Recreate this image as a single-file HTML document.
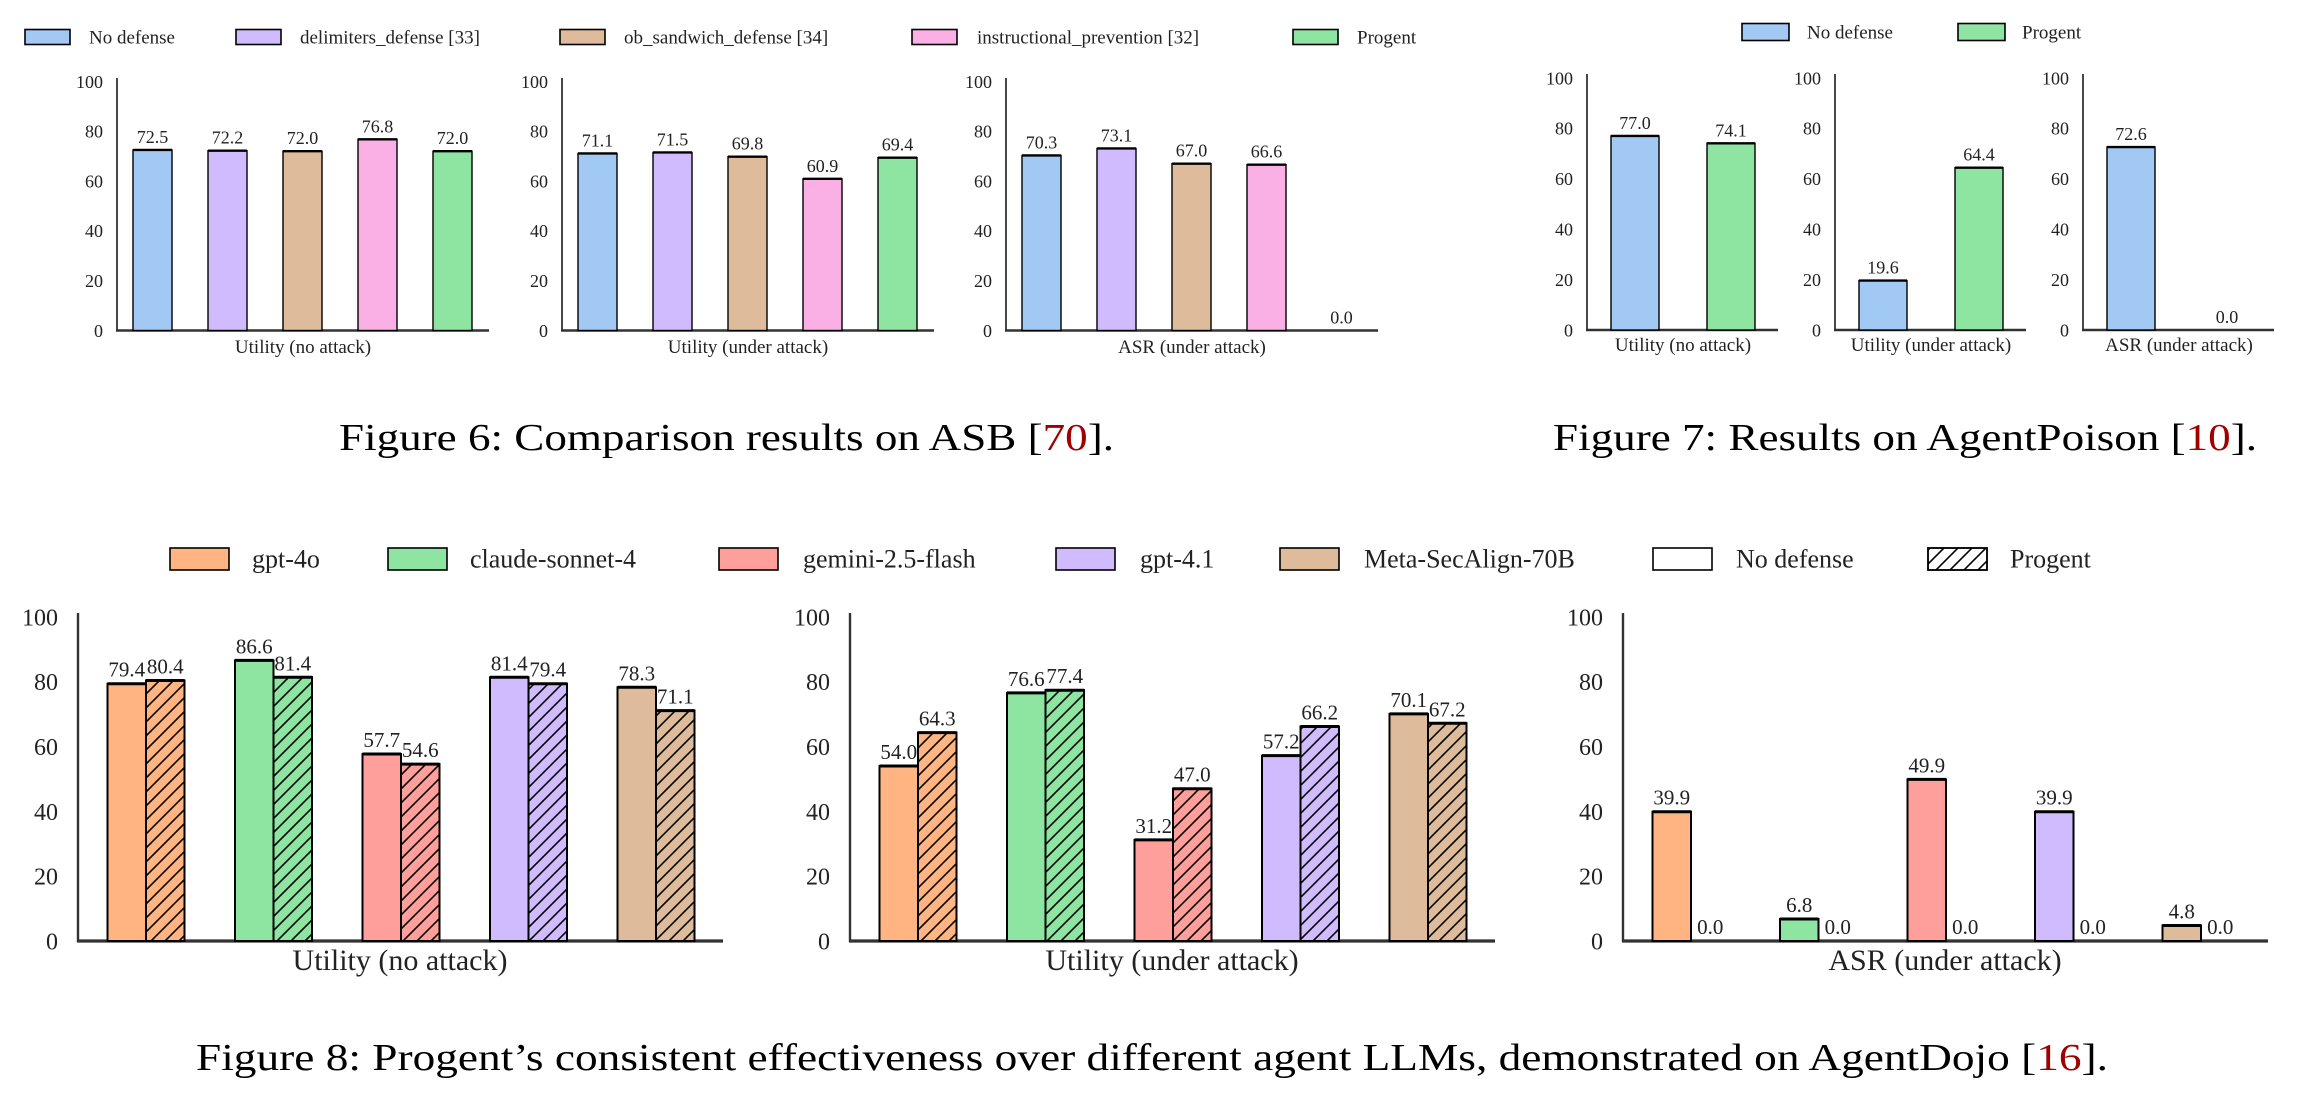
<!DOCTYPE html>
<html><head><meta charset="utf-8">
<style>
html,body{margin:0;padding:0;background:#fff;}
svg{display:block;font-family:"Liberation Serif",serif;}
</style></head>
<body>
<svg id="chart" xmlns="http://www.w3.org/2000/svg" width="2308" height="1099" viewBox="0 0 2308 1099">
<defs>
<pattern id="hatch" patternUnits="userSpaceOnUse" width="14" height="14">
<path d="M-2,16 L16,-2 M-9,9 L9,-9 M5,23 L23,5" stroke="#000" stroke-width="1.6"/>
</pattern>
</defs>
<g id="root"></g>
<text x="339" y="450" font-size="38" textLength="775" lengthAdjust="spacingAndGlyphs">Figure 6: Comparison results on ASB [<tspan fill="#a00000">70</tspan>].</text>
<text x="1553" y="450" font-size="38" textLength="704" lengthAdjust="spacingAndGlyphs">Figure 7: Results on AgentPoison [<tspan fill="#a00000">10</tspan>].</text>
<text x="196" y="1070" font-size="38" textLength="1912" lengthAdjust="spacingAndGlyphs">Figure 8: Progent’s consistent effectiveness over different agent LLMs, demonstrated on AgentDojo [<tspan fill="#a00000">16</tspan>].</text>
</svg>
<script>
// ---------- data ----------
const fig6Series = ["No defense","delimiters_defense [33]","ob_sandwich_defense [34]","instructional_prevention [32]","Progent"];
const fig6Panels = ["Utility (no attack)","Utility (under attack)","ASR (under attack)"];
const fig6Utility = [72.5,72.2,72.0,76.8,72.0];
const fig6UtilityAttack = [71.1,71.5,69.8,60.9,69.4];
const fig6ASR = [70.3,73.1,67.0,66.6,0.0];

const fig7Series = ["No defense","Progent"];
const fig7Panels = ["Utility (no attack)","Utility (under attack)","ASR (under attack)"];
const fig7Utility = [77.0,74.1];
const fig7UtilityAttack = [19.6,64.4];
const fig7ASR = [72.6,0.0];

const fig8Models = ["gpt-4o","claude-sonnet-4","gemini-2.5-flash","gpt-4.1","Meta-SecAlign-70B"];
const fig8Panels = ["Utility (no attack)","Utility (under attack)","ASR (under attack)"];
const fig8UtilNoDef = [79.4,86.6,57.7,81.4,78.3];
const fig8UtilProgent = [80.4,81.4,54.6,79.4,71.1];
const fig8AttackNoDef = [54.0,76.6,31.2,57.2,70.1];
const fig8AttackProgent = [64.3,77.4,47.0,66.2,67.2];
const fig8ASRNoDef = [39.9,6.8,49.9,39.9,4.8];
const fig8ASRProgent = [0.0,0.0,0.0,0.0,0.0];

const yTicks = [0,20,40,60,80,100];

// ---------- styles ----------
const c6 = ["#a1c9f4","#d0bbff","#debb9b","#fab0e4","#8de5a1"];
const c7 = ["#a1c9f4","#8de5a1"];
const c8 = ["#ffb482","#8de5a1","#ff9f9b","#d0bbff","#debb9b"];

const NS = "http://www.w3.org/2000/svg";
const root = document.getElementById("root");
function mk(tag, attrs, parent, text){
  const e = document.createElementNS(NS, tag);
  for (const k in attrs) e.setAttribute(k, attrs[k]);
  if (text !== undefined) e.textContent = text;
  (parent || root).appendChild(e);
  return e;
}

function axes(g, ax, right, top, y0, k, tickFs, tickGap, lw){
  const yl = mk("line",{x1:ax,y1:top,x2:ax,y2:y0+1,stroke:"#333","stroke-width":lw},g);
  
  
  const xl = mk("line",{x1:ax-1,y1:y0,x2:right,y2:y0,stroke:"#333","stroke-width":lw+0.8},g);
  
  
  yTicks.forEach(t=>{
    const tl = mk("text",{x:ax-tickGap,y:y0-t*k+tickFs*0.35,"font-size":tickFs,"text-anchor":"end",fill:"#222"},g,String(t));
    
    
  });
}

function bar(g, x, w, v, y0, k, fill, hatch, lw, fs){
  const h = v*k;
  const r = mk("rect",{x:x,y:y0-h,width:w,height:h,fill:fill,stroke:"#000","stroke-width":lw},g);
  
  
  if (hatch && h>0){
    const hr = mk("rect",{x:x,y:y0-h,width:w,height:h,fill:"url(#hatch)",stroke:"#000","stroke-width":lw},g);
    
    
  }
  if (h>0){
    const tp = mk("line",{x1:x,y1:y0-h,x2:x+w,y2:y0-h,stroke:"#000","stroke-width":lw+1},g);
    
    
  }
  const lb = mk("text",{x:x+w/2,y:y0-h-7,"font-size":fs,"text-anchor":"middle",fill:"#222"},g,v.toFixed(1));
  
  
}

function legend(entries, y, h, w, fs){
  entries.forEach(en=>{
    const g = mk("g",{});
    
    
    const sw = mk("rect",{x:en.sx,y:y-h/2,width:w,height:h,fill:en.fill,stroke:"#000","stroke-width":1.6},g);
    
    
    if (en.hatch){
      const hs = mk("rect",{x:en.sx,y:y-h/2,width:w,height:h,fill:"url(#hatch)",stroke:"#000","stroke-width":1.6},g);
      
      
    }
    const tl = mk("text",{x:en.tx,y:y+fs*0.33,"font-size":fs,fill:"#222"},g,en.label);
    
    
  });
}

// ---------- Figure 6 ----------
(function(){
  const sx=[25,236,560,912,1293], tx=[89,300,624,977,1357];
  legend(fig6Series.map((s,i)=>({label:s,fill:c6[i],sx:sx[i],tx:tx[i]})),37,15,45,19);
  const data=[fig6Utility,fig6UtilityAttack,fig6ASR];
  const axX=[117,562,1006], y0=330.5, k=2.49;
  data.forEach((vals,p)=>{
    const g=mk("g",{});
    
    
    const ax=axX[p];
    axes(g,ax,ax+372,78,y0,k,18,14,1.8);
    vals.forEach((v,i)=>bar(g,ax+16+i*75,39,v,y0,k,c6[i],false,1.4,18));
    const xl=mk("text",{x:ax+186,y:353,"font-size":19,"text-anchor":"middle",fill:"#222"},g,fig6Panels[p]);
    
    
  });
})();

// ---------- Figure 7 ----------
(function(){
  legend(fig7Series.map((s,i)=>({label:s,fill:c7[i],sx:[1742,1958][i],tx:[1807,2022][i]})),32,17,47,19);
  const data=[fig7Utility,fig7UtilityAttack,fig7ASR];
  const axX=[1587,1835,2083], y0=330, k=2.52;
  data.forEach((vals,p)=>{
    const g=mk("g",{});
    
    
    const ax=axX[p];
    axes(g,ax,ax+191,74,y0,k,18,14,1.8);
    vals.forEach((v,i)=>bar(g,ax+24+i*96,48,v,y0,k,c7[i],false,1.4,18));
    const xl=mk("text",{x:ax+96,y:351,"font-size":19,"text-anchor":"middle",fill:"#222"},g,fig7Panels[p]);
    
    
  });
})();

// ---------- Figure 8 ----------
(function(){
  const sx=[170,388,719,1056,1280], tx=[252,470,803,1140,1364];
  const ents=fig8Models.map((m,i)=>({label:m,fill:c8[i],sx:sx[i],tx:tx[i]}));
  ents.push({label:"No defense",fill:"#fff",sx:1653,tx:1736});
  ents.push({label:"Progent",fill:"#fff",hatch:true,sx:1928,tx:2010});
  legend(ents,559,22,59,26);
  const nd=[fig8UtilNoDef,fig8AttackNoDef,fig8ASRNoDef];
  const pg=[fig8UtilProgent,fig8AttackProgent,fig8ASRProgent];
  const axX=[78,850,1623], y0=941, k=3.24;
  nd.forEach((vals,p)=>{
    const g=mk("g",{});
    
    
    const ax=axX[p];
    axes(g,ax,ax+645,613,y0,k,24,20,2.4);
    vals.forEach((v,i)=>{
      const cx=ax+68+i*127.5;
      bar(g,cx-38.5,38.5,v,y0,k,c8[i],false,2,21);
      bar(g,cx,38.5,pg[p][i],y0,k,c8[i],true,2,21);
    });
    const xl=mk("text",{x:ax+322,y:970,"font-size":30,"text-anchor":"middle",fill:"#222"},g,fig8Panels[p]);
    
    
  });
})();
</script>
</body></html>
